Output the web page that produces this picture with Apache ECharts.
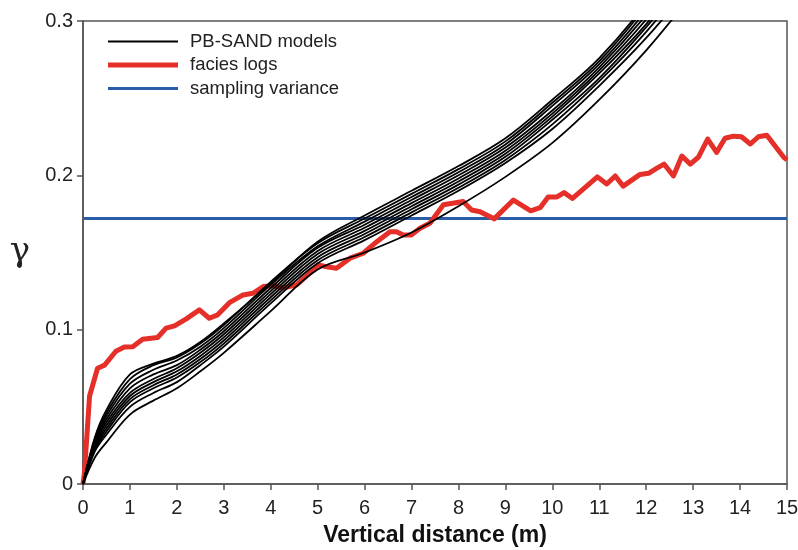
<!DOCTYPE html>
<html>
<head>
<meta charset="utf-8">
<script src="https://cdn.jsdelivr.net/npm/echarts@6/dist/echarts.min.js"></script>
<style>
  html, body { margin: 0; padding: 0; background: #fff; }
  #chart { width: 798px; height: 550px; }
</style>
</head>
<body>
<div id="chart"></div>
<script>
// model curves are sampled on this grid of distances (m)
var modelX = [0, 0.25, 0.5, 1, 1.5, 2, 2.5, 3, 4, 5, 6, 7, 8, 9, 10, 11, 12, 13];

var model1 = [0, 0.030, 0.048, 0.071, 0.078, 0.083, 0.092, 0.104, 0.130, 0.157, 0.174, 0.190, 0.206, 0.224, 0.249, 0.276, 0.312, 0.360];
var model2 = [0, 0.029, 0.046, 0.068, 0.077, 0.082, 0.091, 0.103, 0.131, 0.156, 0.172, 0.188, 0.204, 0.222, 0.247, 0.274, 0.310, 0.355];
var model3 = [0, 0.027, 0.044, 0.065, 0.074, 0.080, 0.089, 0.101, 0.129, 0.154, 0.170, 0.186, 0.202, 0.220, 0.245, 0.272, 0.307, 0.350];
var model4 = [0, 0.026, 0.042, 0.062, 0.071, 0.077, 0.087, 0.099, 0.127, 0.153, 0.168, 0.184, 0.200, 0.218, 0.242, 0.270, 0.304, 0.345];
var model5 = [0, 0.025, 0.040, 0.059, 0.068, 0.075, 0.085, 0.097, 0.125, 0.151, 0.166, 0.182, 0.198, 0.216, 0.240, 0.268, 0.301, 0.340];
var model6 = [0, 0.024, 0.038, 0.057, 0.066, 0.073, 0.083, 0.095, 0.123, 0.149, 0.164, 0.180, 0.196, 0.214, 0.238, 0.266, 0.298, 0.336];
var model7 = [0, 0.023, 0.036, 0.055, 0.064, 0.071, 0.081, 0.093, 0.121, 0.147, 0.162, 0.178, 0.194, 0.212, 0.236, 0.263, 0.296, 0.333];
var model8 = [0, 0.022, 0.034, 0.053, 0.062, 0.069, 0.079, 0.091, 0.119, 0.145, 0.160, 0.176, 0.192, 0.210, 0.233, 0.261, 0.293, 0.330];
var model9 = [0, 0.021, 0.032, 0.050, 0.059, 0.066, 0.077, 0.089, 0.117, 0.143, 0.158, 0.174, 0.190, 0.208, 0.230, 0.258, 0.289, 0.325];
var model10 = [0, 0.017, 0.027, 0.045, 0.054, 0.062, 0.073, 0.085, 0.112, 0.139, 0.150, 0.163, 0.180, 0.199, 0.221, 0.249, 0.281, 0.318];

var faciesX = [0, 0.03, 0.14, 0.31, 0.46, 0.70, 0.88, 1.06, 1.27, 1.59, 1.77, 1.95, 2.2, 2.48, 2.69, 2.87, 3.12,
  3.41, 3.62, 3.84, 4.05, 4.26, 4.55, 4.83, 5.01, 5.19, 5.40, 5.69, 5.97, 6.26, 6.54, 6.68, 6.82, 7.0, 7.18,
  7.39, 7.68, 8.1, 8.28, 8.46, 8.76, 9.17, 9.54, 9.74, 9.91, 10.1, 10.25, 10.43, 10.96, 11.16, 11.34, 11.51,
  11.87, 12.05, 12.22, 12.38, 12.58, 12.76, 12.94, 13.11, 13.31, 13.5, 13.68, 13.86, 14.03, 14.22, 14.39,
  14.57, 14.93, 15];
var faciesY = [0, 0.007, 0.057, 0.075, 0.077, 0.086, 0.0887, 0.089, 0.0938, 0.0949, 0.101, 0.1025, 0.107, 0.1128, 0.1074, 0.1096, 0.1175,
  0.1225, 0.1236, 0.1279, 0.1285, 0.127, 0.129, 0.1366, 0.142, 0.1408, 0.1398, 0.1463, 0.1495, 0.157, 0.1635, 0.1635, 0.1614, 0.1614, 0.1657,
  0.169, 0.181, 0.183, 0.1775, 0.1764, 0.1718, 0.184, 0.177, 0.179, 0.186, 0.186, 0.1888, 0.185, 0.199, 0.1944, 0.1996, 0.193,
  0.2006, 0.2013, 0.2045, 0.2073, 0.1996, 0.2125, 0.2073, 0.2117, 0.2235, 0.2149, 0.224, 0.2254, 0.225, 0.2203, 0.225,
  0.226, 0.2117, 0.21];

var samplingX = [0, 15];
var samplingVariance = 0.172;

var xTicks = [0, 15, 1];     // min, max, step
var yTicks = [0, 0.3, 0.1];

var models = [model1, model2, model3, model4, model5, model6, model7, model8, model9, model10];

var BLACK = '#000', RED = '#e5302a', BLUE = '#2b5ca8';

function pairs(xs, ys) {
  return xs.map(function (x, i) { return [x, ys[i]]; });
}

var chart = echarts.init(document.getElementById('chart'));

var series = [
  {
    name: 'sampling variance',
    type: 'line',
    symbol: 'none',
    lineStyle: { color: BLUE, width: 3 },
    itemStyle: { color: BLUE },
    data: samplingX.map(function (x) { return [x, samplingVariance]; }),
    z: 2
  },
  {
    name: 'facies logs',
    type: 'line',
    symbol: 'none',
    lineStyle: { color: RED, width: 5, join: 'round' },
    itemStyle: { color: RED },
    data: pairs(faciesX, faciesY),
    z: 3
  }
];

models.forEach(function (m) {
  series.push({
    name: 'PB-SAND models',
    type: 'line',
    symbol: 'none',
    smooth: 0.35,
    lineStyle: { color: BLACK, width: 1.8 },
    itemStyle: { color: BLACK },
    data: pairs(modelX, m),
    z: 4
  });
});

var axisColor = '#555';

chart.setOption({
  animation: false,
  backgroundColor: '#fff',
  grid: {
    left: 83, right: 11, top: 21, bottom: 66,
    outerBoundsMode: 'none',   // keep the plot box where it is, labels may hang out
    show: true, borderColor: axisColor, borderWidth: 1.5, backgroundColor: 'transparent'
  },
  legend: {
    // flat bars so the key shows only the line, drawn at each series' width
    data: [
      { name: 'PB-SAND models', icon: 'path://M0,0H70V1.8H0Z', itemStyle: { color: BLACK } },
      { name: 'facies logs', icon: 'path://M0,0H70V5H0Z', itemStyle: { color: RED } },
      { name: 'sampling variance', icon: 'path://M0,0H70V3H0Z', itemStyle: { color: BLUE } }
    ],
    orient: 'vertical',
    left: 108,
    top: 32,
    padding: 0,
    itemWidth: 70,
    itemHeight: 20,
    itemGap: 4.5,
    symbolKeepAspect: true,
    selectedMode: false,
    textStyle: { fontFamily: 'Liberation Sans', fontSize: 18.5, color: '#222', padding: [0, 0, 0, 7] }
  },
  xAxis: {
    type: 'value',
    min: xTicks[0], max: xTicks[1], interval: xTicks[2],
    name: 'Vertical distance (m)',
    nameLocation: 'middle',
    nameGap: 40,
    nameTextStyle: { fontFamily: 'Liberation Sans', fontSize: 23, fontWeight: 'bold', color: '#111' },
    axisLine: { lineStyle: { color: axisColor, width: 1.5 } },
    axisTick: { length: 6, lineStyle: { color: axisColor, width: 1.5 } },
    axisLabel: { fontFamily: 'Liberation Sans', fontSize: 20, color: '#222', margin: 14 },
    splitLine: { show: false }
  },
  yAxis: {
    type: 'value',
    min: yTicks[0], max: yTicks[1], interval: yTicks[2],
    name: 'γ',
    nameLocation: 'middle',
    nameRotate: 0,
    nameGap: 53,
    nameTextStyle: { fontFamily: 'DejaVu Serif', fontSize: 34, color: '#222' },
    axisLine: { lineStyle: { color: axisColor, width: 1.5 } },
    axisTick: { length: 6, lineStyle: { color: axisColor, width: 1.5 } },
    axisLabel: { fontFamily: 'Liberation Sans', fontSize: 20, color: '#222', margin: 10 },
    splitLine: { show: false }
  },
  series: series
});
</script>
</body>
</html>
